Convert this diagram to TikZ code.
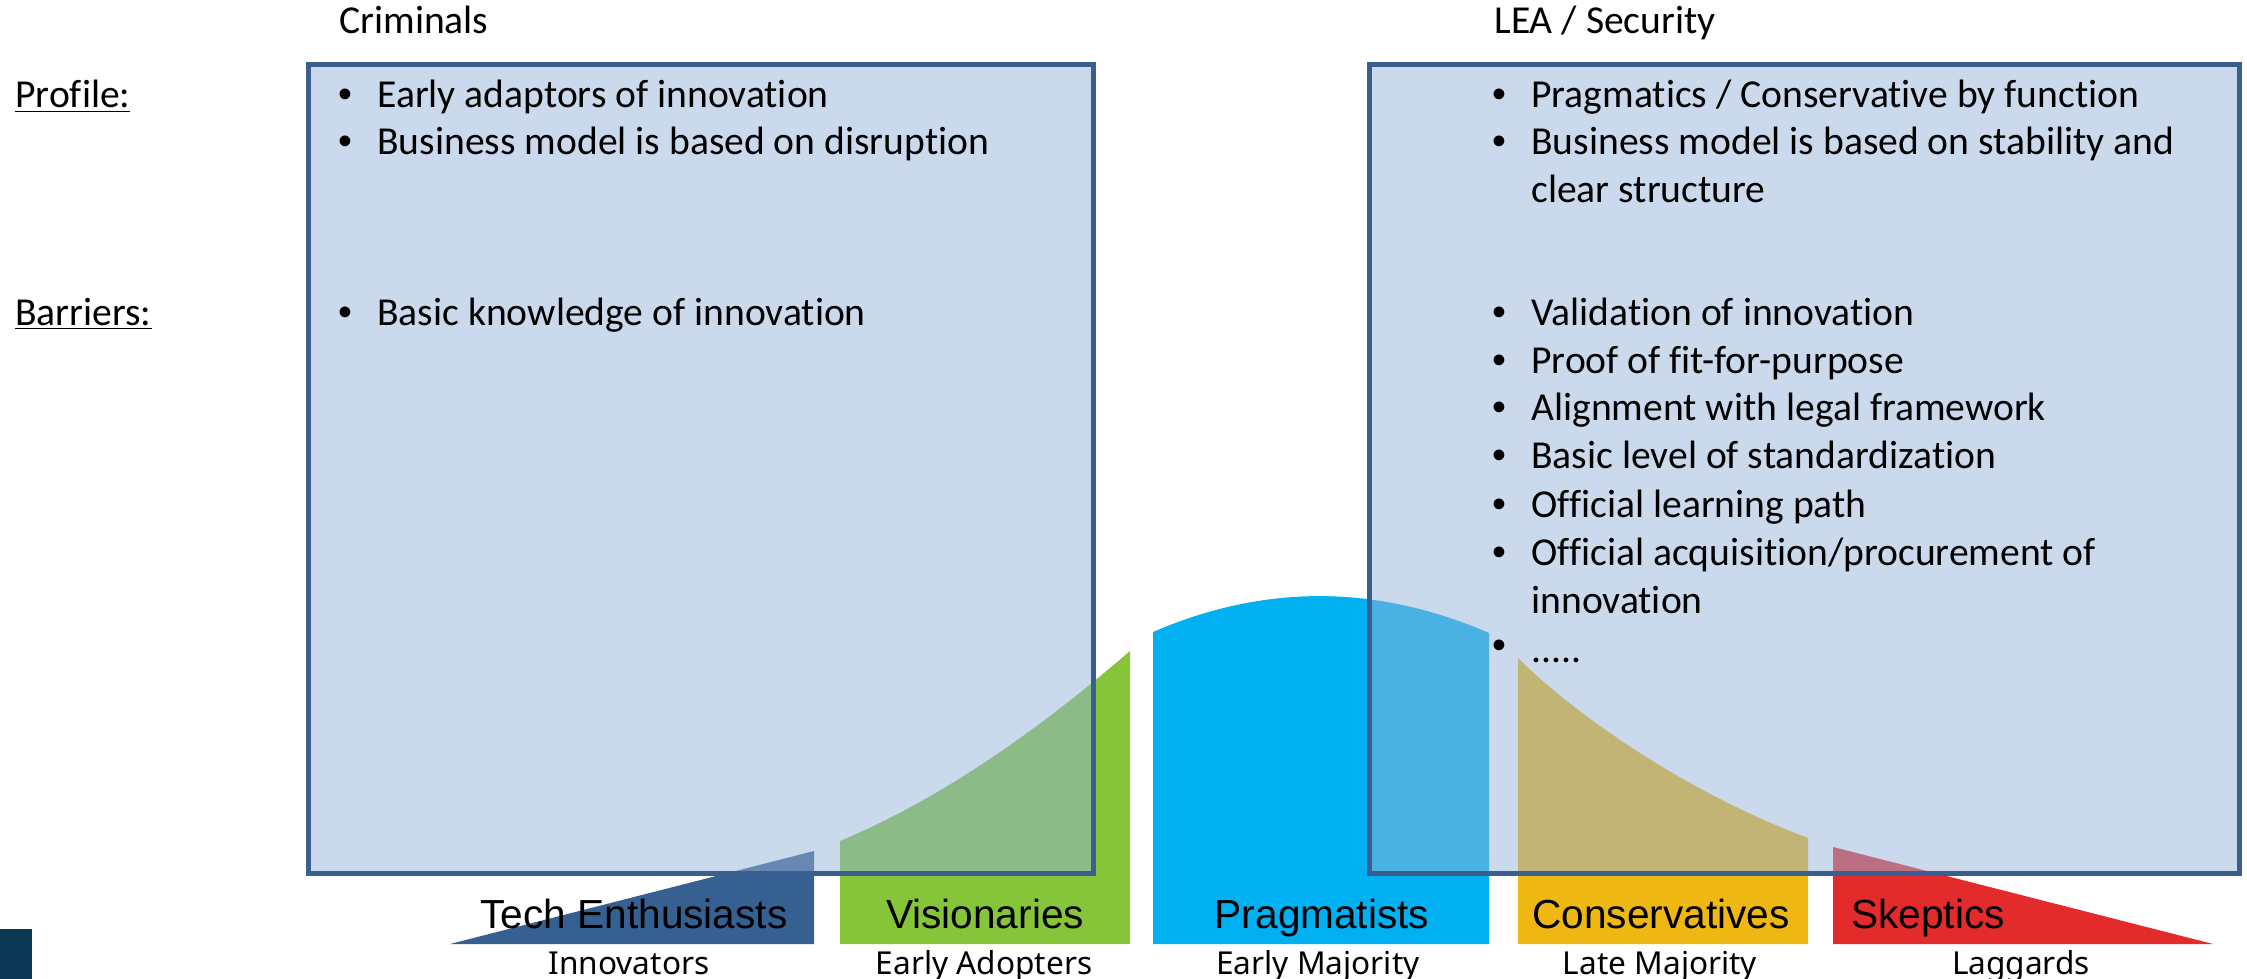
\documentclass[tikz,border=0pt]{standalone}
\usepackage{fontspec}
\setmainfont{Carlito}[Ligatures=NoCommon]
\newfontfamily\arialfont{Liberation Sans}
\newfontfamily\subfont{Noto Sans}
\definecolor{boxfill}{HTML}{95B3D7}
\definecolor{boxline}{HTML}{3A5F8E}
\definecolor{techblue}{HTML}{376092}
\definecolor{visgreen}{HTML}{86C53A}
\definecolor{pragblue}{HTML}{00B0F0}
\definecolor{consgold}{HTML}{EFB711}
\definecolor{skepred}{HTML}{E32B2B}
\definecolor{navysq}{HTML}{0B3752}
\begin{document}
\begin{tikzpicture}[x=0.5pt,y=-0.5pt,
  txt/.style={anchor=base west, inner sep=0pt, font=\fontsize{19.8}{23.8}\selectfont},
  bul/.style={anchor=base, inner sep=0pt, font=\arialfont\fontsize{19.8}{23.8}\selectfont},
  cat/.style={anchor=base, inner sep=0pt, font=\arialfont\fontsize{20.3}{24}\selectfont},
  sub/.style={anchor=base, inner sep=0pt, font=\subfont\fontsize{15.8}{18}\selectfont},
  panel/.style={draw=boxline, line width=2.5pt, fill=boxfill, fill opacity=0.5, draw opacity=1},
]
\useasboundingbox (0,0) rectangle (2247,979);

% adoption curve segments
\fill[techblue] (450,944) -- (814,851) -- (814,944) -- cycle;
\fill[visgreen] (840,944) -- (840,841) .. controls (950,795) and (1050,720) .. (1130,651) -- (1130,944) -- cycle;
\fill[pragblue] (1153,944) -- (1153,632) .. controls (1264,584) and (1376,584) .. (1489,633) -- (1489,944) -- cycle;
\fill[consgold] (1518,944) -- (1518,658) .. controls (1570,710) and (1680,790) .. (1808,838) -- (1808,944) -- cycle;
\fill[skepred] (1833,944) -- (1833,847) -- (2213,944) -- cycle;

% dark square
\fill[navysq] (0,929) rectangle (32,979);

% panels
\draw[panel] (308,64.5) rectangle (1093,873);
\draw[panel] (1369,64.5) rectangle (2239,873);

% headings
\node[txt] (crim) at (339,34) {Criminals};
\node[txt] (lea) at (1494,34) {LEA / Security};
\node[txt] (prof) at (15,108) {\underline{Profile:}};
\node[txt] (barr) at (15,325) {\underline{Barriers:}};

% left panel
\node[bul] (lb1) at (345,108) {•};
\node[txt] (lt1) at (377,108) {Early adaptors of innovation};
\node[bul] (lb2) at (345,155) {•};
\node[txt] (lt2) at (377,155) {Business model is based on disruption};
\node[bul] (lb3) at (345,325) {•};
\node[txt] (lt3) at (377,325) {Basic knowledge of innovation};

% right panel
\node[bul] (rb1) at (1499,108) {•};
\node[txt] (rt1) at (1531,108) {Pragmatics / Conservative by function};
\node[bul] (rb2) at (1499,155) {•};
\node[txt] (rt2) at (1531,155) {Business model is based on stability and};
\node[txt] (rt2b) at (1531,202) {clear structure};
\node[bul] (rb3) at (1499,325) {•};
\node[txt] (rt3) at (1531,325) {Validation of innovation};
\node[bul] (rb4) at (1499,373) {•};
\node[txt] (rt4) at (1531,373) {Proof of fit-for-purpose};
\node[bul] (rb5) at (1499,420) {•};
\node[txt] (rt5) at (1531,420) {Alignment with legal framework};
\node[bul] (rb6) at (1499,468) {•};
\node[txt] (rt6) at (1531,468) {Basic level of standardization};
\node[bul] (rb7) at (1499,517) {•};
\node[txt] (rt7) at (1531,517) {Official learning path};
\node[bul] (rb8) at (1499,565) {•};
\node[txt] (rt8) at (1531,565) {Official acquisition/procurement of};
\node[txt] (rt8b) at (1531,613) {innovation};
\node[bul] (rb9) at (1499,658) {•};
\node[txt] (rt9) at (1531,662) {.....};

% category labels
\node[cat] (c1) at (634,928) {Tech Enthusiasts};
\node[cat] (c2) at (985,928) {Visionaries};
\node[cat] (c3) at (1322,928) {Pragmatists};
\node[cat] (c4) at (1661,928) {Conservatives};
\node[cat] (c5) at (1928,928) {Skeptics};

% sub labels
\node[sub] (s1) at (629,974) {Innovators};
\node[sub] (s2) at (984,974) {Early Adopters};
\node[sub] (s3) at (1318,974) {Early Majority};
\node[sub] (s4) at (1660,974) {Late Majority};
\node[sub] (s5) at (2021,974) {Laggards};
\end{tikzpicture}
\end{document}
